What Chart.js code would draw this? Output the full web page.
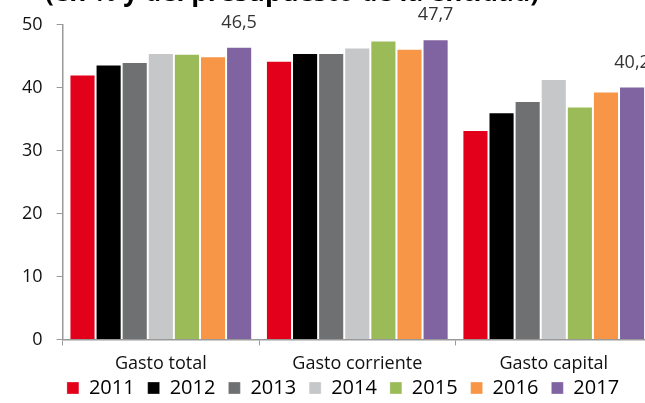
<!DOCTYPE html>
<html>
<head>
<meta charset="utf-8">
<script src="https://cdn.jsdelivr.net/npm/chart.js@4/dist/chart.umd.min.js"></script>
<style>
  html, body { margin: 0; padding: 0; background: #fff; overflow: hidden; }
  #wrap { position: absolute; left: 0; top: 0; width: 686px; height: 403px; }
</style>
</head>
<body>
<div id="wrap"><canvas id="gastoChart"></canvas></div>
<script>
// Datos
const categorias = ['Gasto total', 'Gasto corriente', 'Gasto capital'];
const anios = ['2011', '2012', '2013', '2014', '2015', '2016', '2017'];
const v2011 = [42.1, 44.3, 33.3];
const v2012 = [43.7, 45.5, 36.1];
const v2013 = [44.1, 45.5, 37.9];
const v2014 = [45.5, 46.4, 41.4];
const v2015 = [45.4, 47.5, 37.0];
const v2016 = [45.0, 46.2, 39.4];
const v2017 = [46.5, 47.7, 40.2];
const ticksY = [0, 10, 20, 30, 40, 50];
const titulo = '(en % y del presupuesto de la entidad)';

const series = [v2011, v2012, v2013, v2014, v2015, v2016, v2017];
const colores = ['#e2001a', '#000000', '#6f7071', '#c6c7c9', '#9bbb59', '#f79646', '#8064a2'];
const fuente = "'Open Sans', 'Noto Sans', sans-serif";

// etiqueta solo sobre las barras de 2017
const etiquetas2017 = {
  id: 'etiquetas2017',
  afterDatasetsDraw(chart) {
    const ctx = chart.ctx;
    const meta = chart.getDatasetMeta(6);
    ctx.save();
    ctx.font = '18px ' + fuente;
    ctx.fillStyle = '#333';
    ctx.textAlign = 'center';
    ctx.textBaseline = 'bottom';
    meta.data.forEach((bar, i) => {
      ctx.fillText(v2017[i].toFixed(1).replace('.', ','), bar.x, bar.y - 15);
    });
    ctx.restore();
  }
};

// titulo cortado arriba
const tituloCortado = {
  id: 'tituloCortado',
  afterDraw(chart) {
    const ctx = chart.ctx;
    ctx.save();
    ctx.font = 'bold 26px ' + fuente;
    ctx.fillStyle = '#000';
    ctx.textAlign = 'center';
    ctx.textBaseline = 'alphabetic';
    ctx.fillText(titulo, 292, 1);
    ctx.restore();
  }
};

// leyenda: alto fijo y posicion ajustada
const leyendaAjuste = {
  id: 'leyendaAjuste',
  beforeInit(chart) {
    const fit = chart.legend.fit;
    chart.legend.fit = function () {
      fit.bind(chart.legend)();
      this.height = 20;
    };
  },
  afterLayout(chart) {
    const lg = chart.legend;
    lg.top -= 18;
    lg.bottom = chart.height + 10;
    lg.left += 13;
    lg.right += 13;
  }
};

const ctx1 = document.getElementById('gastoChart').getContext('2d');
new Chart(ctx1, {
  type: 'bar',
  data: {
    labels: categorias,
    datasets: anios.map((a, i) => ({
      label: a,
      data: series[i],
      backgroundColor: colores[i],
      borderColor: 'rgba(255,255,255,0.3)',
      borderWidth: 1,
      categoryPercentage: 0.93,
      barPercentage: 1
    }))
  },
  options: {
    responsive: true,
    maintainAspectRatio: false,
    animation: false,
    layout: { padding: { top: 17, right: 34, left: 8, bottom: 0 } },
    plugins: {
      legend: {
        position: 'bottom',
        labels: {
          font: { family: fuente, size: 20 },
          color: '#000',
          boxWidth: 12,
          boxHeight: 12,
          padding: 13
        }
      },
      tooltip: { enabled: false }
    },
    scales: {
      x: {
        grid: { display: true, drawOnChartArea: false, offset: true, color: '#999', tickLength: 6 },
        border: { color: '#999', width: 1.5 },
        ticks: { font: { family: fuente, size: 18 }, color: '#111', padding: 8 }
      },
      y: {
        min: 0,
        max: 50,
        afterBuildTicks: (axis) => { axis.ticks = ticksY.map(v => ({ value: v })); },
        grid: { display: true, drawOnChartArea: false, color: '#999', tickLength: 6 },
        border: { color: '#999', width: 1.5 },
        ticks: { font: { family: fuente, size: 18 }, color: '#111', padding: 14 }
      }
    }
  },
  plugins: [etiquetas2017, tituloCortado, leyendaAjuste]
});
</script>
</body>
</html>
